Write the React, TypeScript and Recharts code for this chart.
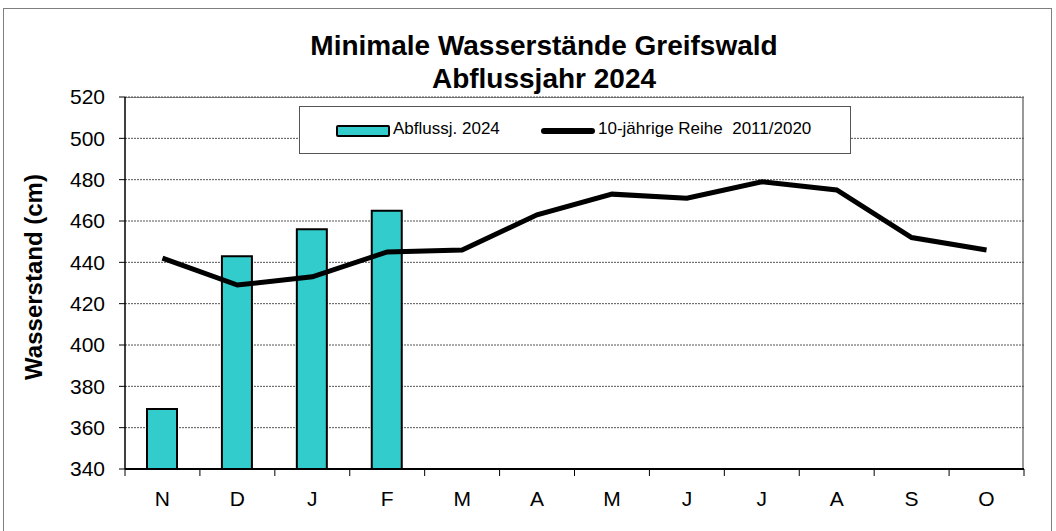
import React from "react";
import {
  ComposedChart,
  Bar,
  Line,
  XAxis,
  YAxis,
  CartesianGrid,
} from "recharts";

const months = ["N", "D", "J", "F", "M", "A", "M", "J", "J", "A", "S", "O"];
const abfluss2024 = [369, 443, 456, 465, null, null, null, null, null, null, null, null];
const reihe2011_2020 = [442, 429, 433, 445, 446, 463, 473, 471, 479, 475, 452, 446];
const yTicks = [340, 360, 380, 400, 420, 440, 460, 480, 500, 520];

const data = months.map((m, i) => ({
  month: m,
  key: `${m}-${i}`,
  abfluss: abfluss2024[i],
  reihe: reihe2011_2020[i],
}));

const W = 1056;
const H = 531;
const LEFT = 125;
const RIGHT = 32;
const TOP = 97;
const BOTTOM = 62;
const BAND = (W - LEFT - RIGHT) / months.length;
const FONT = "'Liberation Sans', Arial, sans-serif";

function MonthTick(props: any) {
  const { x, y, payload, index } = props;
  return (
    <g>
      <line x1={x - BAND / 2} x2={x - BAND / 2} y1={y} y2={y + 7} stroke="#000" strokeWidth={1} />
      {index === months.length - 1 && (
        <line x1={x + BAND / 2} x2={x + BAND / 2} y1={y} y2={y + 7} stroke="#000" strokeWidth={1} />
      )}
      <text x={x} y={y + 37} textAnchor="middle" fontSize={21} fontFamily={FONT} fill="#000">
        {months[index] ?? payload.value}
      </text>
    </g>
  );
}

export default function App() {
  return (
    <div style={{ position: "absolute", left: 0, top: 0, width: W, height: H, background: "#fff", fontFamily: FONT }}>
      {/* outer frame */}
      <div style={{ position: "absolute", left: 3, top: 8, width: 1047, height: 540, border: "1px solid #7f7f7f" }} />
      {/* plot area border */}
      <div
        style={{
          position: "absolute",
          left: LEFT,
          top: TOP,
          width: W - LEFT - RIGHT,
          height: H - TOP - BOTTOM,
          borderTop: "1px solid #808080",
          borderRight: "2px solid #999",
          boxSizing: "border-box",
        }}
      />
      <div
        style={{
          position: "absolute",
          left: 0,
          width: W,
          top: 29,
          textAlign: "center",
          fontWeight: "bold",
          fontSize: 28,
          lineHeight: "33px",
          paddingLeft: 32,
          boxSizing: "border-box",
        }}
      >
        <div>Minimale Wasserstände Greifswald</div>
        <div>Abflussjahr 2024</div>
      </div>
      <ComposedChart
        width={W}
        height={H}
        data={data}
        margin={{ top: TOP, right: RIGHT, left: 0, bottom: 0 }}
        style={{ position: "absolute", left: 0, top: 0 }}
      >
        <CartesianGrid vertical={false} stroke="#555" strokeDasharray="2 1" />
        <XAxis
          dataKey="key"
          height={BOTTOM}
          tickSize={0}
          tickMargin={0}
          axisLine={{ stroke: "#000", strokeWidth: 2 }}
          tick={<MonthTick />}
          interval={0}
        />
        <YAxis
          domain={[340, 520]}
          ticks={yTicks}
          width={LEFT}
          tickSize={6}
          tickMargin={14}
          interval={0}
          axisLine={{ stroke: "#000", strokeWidth: 1.5 }}
          tickLine={{ stroke: "#000" }}
          tick={{ fill: "#000", fontSize: 21, fontFamily: FONT }}
          label={{
            value: "Wasserstand (cm)",
            angle: -90,
            position: "insideLeft",
            offset: 33,
            dy: -6,
            style: { textAnchor: "middle", fontWeight: "bold", fontSize: 24, fontFamily: FONT, fill: "#000" },
          }}
        />
        <Bar
          dataKey="abfluss"
          name="Abflussj. 2024"
          barSize={30}
          fill="#33CCCC"
          stroke="#000"
          strokeWidth={2}
          isAnimationActive={false}
        />
        <Line
          dataKey="reihe"
          name="10-jährige Reihe  2011/2020"
          type="linear"
          stroke="#000"
          strokeWidth={5}
          dot={false}
          activeDot={false}
          isAnimationActive={false}
        />
      </ComposedChart>
      {/* legend */}
      <div
        style={{
          position: "absolute",
          left: 299,
          top: 106,
          width: 552,
          height: 48,
          background: "#fff",
          border: "1px solid #555",
          boxSizing: "border-box",
          fontSize: 17,
          whiteSpace: "pre",
        }}
      >
        <div style={{ position: "absolute", left: 36, top: 18, width: 50, height: 8, background: "#33CCCC", border: "2px solid #000", borderRadius: 2 }} />
        <div style={{ position: "absolute", left: 93, top: 12, lineHeight: "20px" }}>Abflussj. 2024</div>
        <div style={{ position: "absolute", left: 241, top: 21, width: 54, height: 6, background: "#000", borderRadius: 3 }} />
        <div style={{ position: "absolute", left: 298, top: 12, lineHeight: "20px" }}>10-jährige Reihe  2011/2020</div>
      </div>
    </div>
  );
}
